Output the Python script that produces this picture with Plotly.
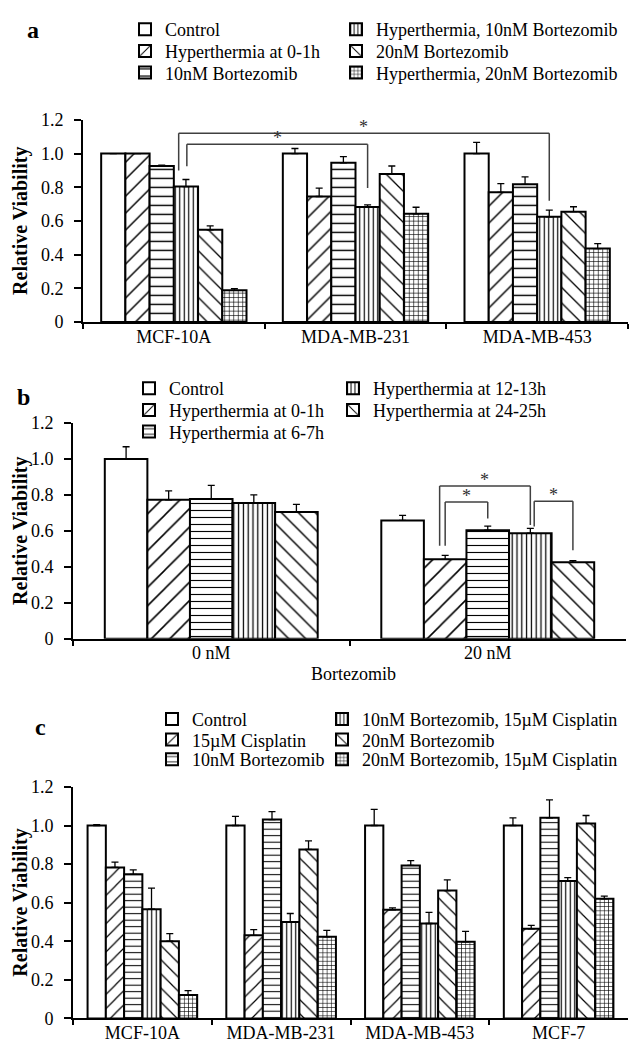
import plotly.graph_objects as go

FONT = "Liberation Serif"
W, H = 634, 1051

# ---------------- data: panel a ----------------
a_cells = ["MCF-10A", "MDA-MB-231", "MDA-MB-453"]
a_names = ["Control", "Hyperthermia at 0-1h", "10nM Bortezomib",
           "Hyperthermia, 10nM Bortezomib", "20nM Bortezomib",
           "Hyperthermia, 20nM Bortezomib"]
a_control = [1.000, 1.000, 1.000]
a_control_err = [0.000, 0.030, 0.066]
a_ht_0_1h = [1.000, 0.745, 0.770]
a_ht_0_1h_err = [0.000, 0.050, 0.052]
a_btz10 = [0.926, 0.945, 0.817]
a_btz10_err = [0.005, 0.037, 0.045]
a_ht_btz10 = [0.804, 0.683, 0.624]
a_ht_btz10_err = [0.042, 0.012, 0.040]
a_btz20 = [0.547, 0.878, 0.655]
a_btz20_err = [0.024, 0.048, 0.029]
a_ht_btz20 = [0.188, 0.642, 0.436]
a_ht_btz20_err = [0.010, 0.039, 0.029]

# ---------------- data: panel b ----------------
b_doses = ["0 nM", "20 nM"]
b_names = ["Control", "Hyperthermia at 0-1h", "Hyperthermia at 6-7h",
           "Hyperthermia at 12-13h", "Hyperthermia at 24-25h"]
b_control = [1.000, 0.658]
b_control_err = [0.068, 0.028]
b_ht_0_1h = [0.773, 0.442]
b_ht_0_1h_err = [0.049, 0.022]
b_ht_6_7h = [0.778, 0.604]
b_ht_6_7h_err = [0.075, 0.023]
b_ht_12_13h = [0.755, 0.587]
b_ht_12_13h_err = [0.045, 0.027]
b_ht_24_25h = [0.705, 0.425]
b_ht_24_25h_err = [0.042, 0.010]

# ---------------- data: panel c ----------------
c_cells = ["MCF-10A", "MDA-MB-231", "MDA-MB-453", "MCF-7"]
c_names = ["Control", "15µM Cisplatin", "10nM Bortezomib",
           "10nM Bortezomib, 15µM Cisplatin", "20nM Bortezomib",
           "20nM Bortezomib, 15µM Cisplatin"]
c_control = [1.000, 1.000, 1.000, 1.000]
c_control_err = [0.005, 0.047, 0.084, 0.040]
c_cis15 = [0.783, 0.431, 0.563, 0.465]
c_cis15_err = [0.027, 0.029, 0.010, 0.017]
c_btz10 = [0.747, 1.031, 0.793, 1.040]
c_btz10_err = [0.023, 0.041, 0.025, 0.093]
c_btz10_cis15 = [0.566, 0.500, 0.492, 0.713]
c_btz10_cis15_err = [0.109, 0.044, 0.058, 0.017]
c_btz20 = [0.400, 0.876, 0.663, 1.011]
c_btz20_err = [0.040, 0.044, 0.055, 0.041]
c_btz20_cis15 = [0.122, 0.423, 0.397, 0.620]
c_btz20_cis15_err = [0.022, 0.033, 0.054, 0.014]

y_ticks = [0, 0.2, 0.4, 0.6, 0.8, 1.0, 1.2]
y_ticktext = ["0", "0.2", "0.4", "0.6", "0.8", "1.0", "1.2"]

# ---------------- styling ----------------
PATTERNS = ["", "/", "-", "|", "\\", "+"]


def px_x(p):
    return p / W


def px_y(p):
    return 1 - p / H


# panel geometry in pixels: (x_left, x_right, y_top(1.2), y_bottom(0))
PANELS = {
    "a": dict(box=(83, 628, 112, 318), group=0.80,
              sizes=[0, 12, 9, 4.5, 11, 4.5]),
    "b": dict(box=(73, 626, 421, 641), group=0.77,
              sizes=[0, 13, 7, 4.8, 12, 4.5]),
    "c": dict(box=(73, 628, 792, 1028), group=0.79,
              sizes=[0, 10, 6.5, 4.5, 10, 4.2]),
}

fig = go.Figure()
legend_layouts = {}
legend_counter = [0]


def legend_name():
    legend_counter[0] += 1
    n = legend_counter[0]
    return "legend" if n == 1 else f"legend{n}"


def add_panel(key, xa, ya, cats, names, series, errors, legend_pos, legend_font):
    spec = PANELS[key]
    nb = len(series)
    w = spec["group"] / nb
    for k, (name, vals, errs) in enumerate(zip(names, series, errors)):
        lg = legend_name()
        pat = dict(shape=PATTERNS[k], fgcolor="black", bgcolor="white",
                   size=spec["sizes"][k] if PATTERNS[k] else 8,
                   solidity=(0.12 if PATTERNS[k] in ("/", "\\") else
                             0.16 if PATTERNS[k] == "-" else 0.26),
                   fillmode="replace")
        fig.add_trace(go.Bar(
            x=cats, y=vals, name=name, xaxis=xa, yaxis=ya,
            width=w, offset=-spec["group"] / 2 + k * w,
            marker=dict(color="white", pattern=pat,
                        line=dict(color="black", width=2)),
            error_y=dict(type="data", array=errs, arrayminus=[0] * len(errs),
                         symmetric=False, color="black", thickness=1.3,
                         width=3.5),
            legend=lg, showlegend=True,
        ))
        tx, ty = legend_pos[k]
        legend_layouts[lg] = dict(
            x=px_x(tx - 40), y=px_y(ty), xanchor="left", yanchor="middle",
            bgcolor="rgba(0,0,0,0)", borderwidth=0,
            font=dict(family=FONT, size=legend_font, color="black"),
            itemclick=False, itemdoubleclick=False,
        )


add_panel("a", "x", "y", a_cells, a_names,
          [a_control, a_ht_0_1h, a_btz10, a_ht_btz10, a_btz20, a_ht_btz20],
          [a_control_err, a_ht_0_1h_err, a_btz10_err, a_ht_btz10_err,
           a_btz20_err, a_ht_btz20_err],
          [(165, 20), (165, 42), (165, 64), (376, 20), (376, 42), (376, 64)], 18)
add_panel("b", "x2", "y2", b_doses, b_names,
          [b_control, b_ht_0_1h, b_ht_6_7h, b_ht_12_13h, b_ht_24_25h],
          [b_control_err, b_ht_0_1h_err, b_ht_6_7h_err, b_ht_12_13h_err,
           b_ht_24_25h_err],
          [(169, 386), (169, 408), (169, 430), (373, 386), (373, 408)], 18)
add_panel("c", "x3", "y3", c_cells, c_names,
          [c_control, c_cis15, c_btz10, c_btz10_cis15, c_btz20, c_btz20_cis15],
          [c_control_err, c_cis15_err, c_btz10_err, c_btz10_cis15_err,
           c_btz20_err, c_btz20_cis15_err],
          [(192, 723), (192, 744), (192, 764), (362, 723), (362, 744), (362, 764)], 18)


def axis_pair(key):
    x0, x1, yt, yb = PANELS[key]["box"]
    xa = dict(domain=[px_x(x0), px_x(x1)], type="category", tickson="boundaries",
              ticks="outside", ticklen=5, tickwidth=1.5, tickcolor="black",
              showline=True, linewidth=2, linecolor="black", showgrid=False,
              zeroline=False, fixedrange=True, ticklabelstandoff=-3,
              tickfont=dict(family=FONT, size=18, color="black"))
    ya = dict(domain=[px_y(yb), px_y(yt)], range=[0, 1.2], tickvals=y_ticks,
              ticktext=y_ticktext, ticks="outside", ticklen=7, tickwidth=1.5,
              tickcolor="black", showline=True, linewidth=2, linecolor="black",
              showgrid=False, zeroline=False, fixedrange=True,
              ticklabelstandoff=7,
              tickfont=dict(family=FONT, size=18, color="black"))
    return xa, ya


xa1, ya1 = axis_pair("a")
xa2, ya2 = axis_pair("b")
xa3, ya3 = axis_pair("c")
ya1["anchor"] = "x"
ya2["anchor"] = "x2"
ya3["anchor"] = "x3"
xa1["anchor"] = "y"
xa2["anchor"] = "y2"
xa3["anchor"] = "y3"

# ---------------- significance brackets ----------------
shapes = []
annotations = []


def bar_center(key, cat, k, nb, nudge=0.0):
    g = PANELS[key]["group"]
    return cat - g / 2 + (k + 0.5) * g / nb + nudge


def bracket(key, xr, yr, left, right, top, drop_l, drop_r, star_y):
    xl = bar_center(key, *left)
    xrr = bar_center(key, *right)
    style = dict(color="#404040", width=1.5)
    for (xa_, ya_, xb_, yb_) in [(xl, drop_l, xl, top), (xl, top, xrr, top),
                                 (xrr, top, xrr, drop_r)]:
        shapes.append(dict(type="line", xref=xr, yref=yr, x0=xa_, y0=ya_,
                           x1=xb_, y1=yb_, line=style))
    annotations.append(dict(x=(xl + xrr) / 2, y=star_y, xref=xr, yref=yr,
                            text="*", showarrow=False, xanchor="center",
                            yanchor="middle",
                            font=dict(family=FONT, size=18, color="#303030")))


# endpoints: (category, bar, nbars[, x nudge])
bracket("a", "x", "y", (0, 3, 6, -0.04), (2, 3, 6), 1.12, 0.90, 0.72, 1.155)
bracket("a", "x", "y", (0, 3, 6, 0.005), (1, 3, 6), 1.055, 0.925, 0.795, 1.09)
bracket("b", "x2", "y2", (1, 1, 5, -0.02), (1, 3, 5), 0.849, 0.518, 0.633, 0.883)
bracket("b", "x2", "y2", (1, 1, 5), (1, 2, 5), 0.76, 0.518, 0.669, 0.794)
bracket("b", "x2", "y2", (1, 3, 5, 0.014), (1, 4, 5), 0.765, 0.624, 0.493, 0.799)

# ---------------- titles and panel letters ----------------
for key in ["a", "b", "c"]:
    x0, x1, yt, yb = PANELS[key]["box"]
    annotations.append(dict(x=px_x(21), y=px_y((yt + yb) / 2), xref="paper",
                            yref="paper", text="<b>Relative Viability</b>",
                            textangle=-90, showarrow=False,
                            xanchor="center", yanchor="middle",
                            font=dict(family=FONT, size=20, color="black")))

for letter, (lx, ly) in {"a": (33, 20), "b": (23, 394), "c": (40, 731)}.items():
    annotations.append(dict(x=px_x(lx), y=px_y(ly), xref="paper", yref="paper",
                            text=f"<b>{letter}</b>", showarrow=False,
                            xanchor="center", yanchor="middle",
                            font=dict(family=FONT, size=24, color="black")))

annotations.append(dict(x=px_x(353), y=px_y(677), xref="paper", yref="paper",
                        text="Bortezomib", showarrow=False,
                        xanchor="center", yanchor="middle",
                        font=dict(family=FONT, size=18, color="black")))

layout = dict(
    width=W, height=H, margin=dict(l=0, r=0, t=0, b=0),
    paper_bgcolor="white", plot_bgcolor="white",
    font=dict(family=FONT, size=18, color="black"),
    barmode="overlay",
    xaxis=xa1, yaxis=ya1, xaxis2=xa2, yaxis2=ya2, xaxis3=xa3, yaxis3=ya3,
    shapes=shapes, annotations=annotations,
)
layout.update(legend_layouts)
fig.update_layout(**layout)

fig.write_html("out.html")
